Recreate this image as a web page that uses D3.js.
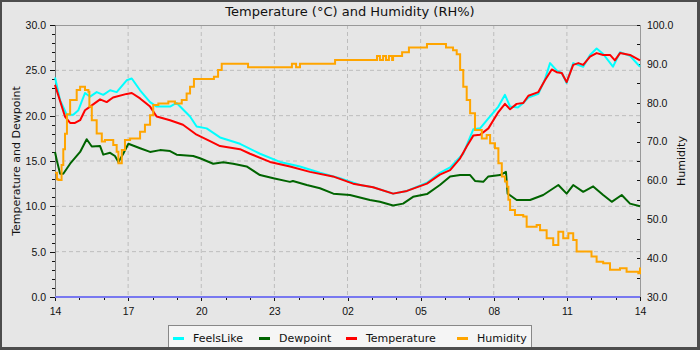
<!DOCTYPE html>
<html>
<head>
<meta charset="utf-8">
<script src="https://cdn.jsdelivr.net/npm/d3@7"></script>
<style>
  body { margin: 0; background: #4d4d4d; }
  svg { display: block; font-family: "DejaVu Sans", sans-serif; }
  .tick text { fill: #111; }
</style>
</head>
<body>
<div id="chart"></div>
<script>
// hours since 14:00
var tickLabels = ["14", "17", "20", "23", "02", "05", "08", "11", "14"];
var seriesNames = ["FeelsLike", "Dewpoint", "Temperature", "Humidity"];

var feelsLike = [
  [0, 24.2], [0.21, 21.7], [0.48, 20.1], [0.75, 20.1], [0.96, 20.6], [1.23, 22.5], [1.44, 22.1],
  [1.71, 22.6], [1.98, 22.3], [2.26, 22.8], [2.53, 22.6], [2.94, 23.9], [3.15, 24.1], [3.49, 22.8],
  [3.90, 21.5], [4.17, 21.0], [4.72, 21.0], [4.99, 21.4], [5.54, 19.9], [5.81, 18.8], [6.22, 18.6],
  [6.77, 17.6], [7.59, 16.9], [8.41, 15.8], [9.23, 14.9], [10.05, 14.4], [10.87, 13.7], [11.69, 13.1],
  [12.51, 12.35], [13.05, 12.1], [13.87, 11.4], [14.44, 11.7], [15.26, 12.6], [15.79, 13.7],
  [16.21, 14.3], [16.75, 15.8], [17.16, 18.5], [17.44, 18.6], [17.78, 19.7], [18.19, 21.0],
  [18.46, 22.3], [18.67, 21.0], [18.99, 20.9], [19.21, 21.4], [19.42, 22.0], [19.83, 22.4],
  [20.10, 24.0], [20.31, 25.8], [20.58, 25.0], [20.79, 24.7], [20.99, 23.6], [21.26, 25.8],
  [21.67, 25.4], [21.95, 26.7], [22.22, 27.4], [22.49, 26.8], [22.89, 25.4], [23.18, 27.0],
  [23.59, 26.6], [24, 25.4]
];

var dewpoint = [
  [0, 16.0], [0.08, 15.0], [0.21, 13.6], [0.34, 13.6], [0.62, 14.7], [1.03, 16.0], [1.30, 17.4],
  [1.51, 16.6], [1.85, 16.65], [1.98, 15.7], [2.26, 15.9], [2.46, 15.55], [2.60, 14.9], [2.80, 15.8],
  [3.01, 16.9], [3.49, 16.4], [3.90, 16.0], [4.31, 16.2], [4.72, 16.1], [4.99, 15.7], [5.67, 15.55],
  [5.95, 15.3], [6.49, 14.7], [6.90, 14.85], [7.31, 14.7], [7.86, 14.4], [8.41, 13.45], [8.96, 13.1],
  [9.64, 12.7], [9.76, 12.8], [10.33, 12.35], [10.87, 12.0], [11.42, 11.4], [12.10, 11.25],
  [12.92, 10.7], [13.33, 10.5], [13.87, 10.1], [14.28, 10.3], [14.69, 11.05], [15.26, 11.35],
  [15.79, 12.35], [16.21, 13.3], [16.62, 13.45], [17.03, 13.45], [17.23, 12.8], [17.57, 12.7],
  [17.78, 13.3], [18.26, 13.45], [18.50, 13.8], [18.57, 11.4], [18.94, 10.7], [19.49, 10.7],
  [20.03, 11.25], [20.65, 12.35], [20.99, 11.4], [21.26, 12.35], [21.67, 11.6], [22.08, 12.2],
  [22.49, 11.25], [22.84, 10.5], [23.25, 11.25], [23.59, 10.3], [24, 10.0]
];

var temperature = [
  [0, 23.4], [0.41, 19.9], [0.62, 19.2], [0.82, 19.2], [1.03, 19.5], [1.23, 20.6], [1.44, 21.0],
  [1.85, 21.8], [2.12, 21.5], [2.38, 22.0], [2.94, 22.4], [3.15, 22.5], [3.49, 21.9], [3.90, 21.0],
  [4.17, 19.9], [4.72, 19.5], [5.25, 19.0], [5.81, 17.9], [6.36, 17.2], [6.77, 16.65], [7.59, 16.3],
  [8.0, 15.8], [8.82, 14.9], [9.64, 14.4], [10.46, 13.8], [11.4, 13.3], [12.23, 12.5], [13.05, 12.1],
  [13.87, 11.4], [14.44, 11.7], [15.26, 12.5], [15.79, 13.5], [16.21, 14.0], [16.62, 15.3],
  [16.89, 16.6], [17.16, 17.8], [17.44, 17.9], [17.78, 18.6], [18.19, 20.4], [18.46, 21.3],
  [18.67, 20.7], [18.94, 21.3], [19.21, 21.4], [19.42, 22.2], [19.83, 22.6], [20.10, 23.9],
  [20.38, 25.1], [20.58, 24.8], [20.79, 24.7], [20.99, 23.7], [21.26, 25.6], [21.47, 25.8],
  [21.67, 25.6], [21.95, 26.5], [22.22, 26.9], [22.49, 26.7], [22.77, 26.7], [22.97, 26.1],
  [23.18, 26.9], [23.59, 26.7], [24, 26.1]
];

var humidity = [
  [0, 62.0], [0.08, 60.3], [0.14, 60.1], [0.27, 64.0], [0.34, 68.0], [0.41, 72.0], [0.49, 77.0],
  [0.62, 80.7], [0.89, 83.3], [1.03, 84.1], [1.23, 83.3], [1.37, 82.8], [1.41, 79.0], [1.51, 75.5],
  [1.71, 72.1], [1.92, 70.0], [2.05, 70.4], [2.26, 70.4], [2.39, 69.1], [2.53, 67.4], [2.60, 64.4],
  [2.74, 67.8], [2.87, 70.4], [3.08, 70.8], [3.35, 70.8], [3.49, 72.5], [3.69, 74.3], [3.90, 76.8],
  [4.03, 79.4], [4.24, 79.8], [4.65, 80.3], [4.92, 79.8], [5.20, 80.7], [5.40, 82.4], [5.54, 84.1],
  [5.70, 86.1], [6.44, 86.1], [6.52, 86.7], [6.69, 88.4], [6.84, 90.0], [7.92, 89.1], [9.72, 90.0],
  [9.89, 89.1], [10.05, 90.0], [11.49, 91.0], [13.21, 92.0], [13.33, 91.0], [13.46, 92.0],
  [13.58, 91.0], [13.70, 92.0], [13.83, 91.0], [13.87, 92.0], [14.24, 93.0], [14.52, 94.2],
  [15.26, 95.1], [16.04, 94.2], [16.33, 93.5], [16.48, 92.5], [16.62, 88.4], [16.75, 84.1],
  [16.89, 80.7], [17.03, 77.3], [17.23, 73.0], [17.51, 70.8], [17.71, 71.7], [17.85, 69.6],
  [18.05, 68.3], [18.19, 64.4], [18.33, 61.0], [18.46, 59.7], [18.55, 58.4], [18.60, 55.0],
  [18.67, 52.4], [18.87, 51.1], [19.21, 50.7], [19.35, 48.1], [19.76, 48.5], [19.90, 47.2],
  [20.17, 45.1], [20.44, 43.4], [20.65, 46.8], [20.85, 45.1], [21.06, 46.4], [21.26, 44.7],
  [21.40, 41.7], [21.81, 41.7], [22.01, 40.4], [22.22, 39.1], [22.49, 38.7], [22.77, 37.0],
  [23.18, 37.4], [23.45, 36.5], [23.93, 36.1], [24, 37.6]
];

var rainRate = [[0, 0], [24, 0]];

var colors = ["#00ffff", "#006400", "#ff0000", "#ffa500"];

var totalWidth = 700, totalHeight = 350,
    margin = {top: 25, right: 60, bottom: 53, left: 55},
    width = totalWidth - margin.left - margin.right,
    height = totalHeight - margin.top - margin.bottom;

var svg = d3.select("#chart").append("svg")
    .attr("width", totalWidth)
    .attr("height", totalHeight);

// fond et bordure
svg.append("rect").attr("width", totalWidth).attr("height", totalHeight).attr("fill", "#4d4d4d");
svg.append("rect").attr("x", 2).attr("y", 2).attr("width", 695).attr("height", 345).attr("fill", "#e6e6e6");

var g = svg.append("g").attr("transform", "translate(" + margin.left + "," + margin.top + ")");

var x = d3.scaleLinear().domain([0, 24]).range([0, width]),
    yL = d3.scaleLinear().domain([0, 30]).range([height, 0]),
    yR = d3.scaleLinear().domain([30, 100]).range([height, 0]);

// grille
var majorX = d3.range(0, 25, 3);
g.selectAll(".vgrid").data(majorX.slice(1, -1)).enter().append("line")
    .attr("x1", function(d) { return x(d); }).attr("x2", function(d) { return x(d); })
    .attr("y1", 0).attr("y2", height)
    .attr("stroke", "#bdbdbd").attr("stroke-dasharray", "4,3");
g.selectAll(".hgrid").data(d3.range(5, 30, 5)).enter().append("line")
    .attr("x1", 0).attr("x2", width)
    .attr("y1", function(d) { return yL(d); }).attr("y2", function(d) { return yL(d); })
    .attr("stroke", "#bdbdbd").attr("stroke-dasharray", "4,3");

// cadre
g.append("rect").attr("width", width).attr("height", height)
    .attr("fill", "none").attr("stroke", "#999").attr("shape-rendering", "crispEdges");

// axes
function styleAxis(sel) {
    sel.selectAll(".domain").remove();
    sel.selectAll("line").attr("stroke", "#111").attr("shape-rendering", "crispEdges");
    sel.selectAll("text").style("font-size", "10.5px");
}
g.append("g").attr("transform", "translate(0," + height + ")")
    .call(d3.axisBottom(x).tickValues(d3.range(0, 25, 1)).tickSize(3).tickFormat(""))
    .call(styleAxis);
g.append("g").attr("transform", "translate(0," + height + ")")
    .call(d3.axisBottom(x).tickValues(majorX).tickSize(4).tickPadding(6.5)
        .tickFormat(function(d, i) { return tickLabels[i]; }))
    .call(styleAxis);

g.append("g")
    .call(d3.axisLeft(yL).tickValues(d3.range(0, 31, 1)).tickSize(3).tickFormat(""))
    .call(styleAxis);
g.append("g")
    .call(d3.axisLeft(yL).tickValues(d3.range(0, 31, 5)).tickSize(5).tickPadding(4)
        .tickFormat(d3.format(".1f")))
    .call(styleAxis);
g.append("line").attr("x1", 0).attr("x2", 0).attr("y1", 0).attr("y2", height)
    .attr("stroke", "#777").attr("shape-rendering", "crispEdges");

g.append("g").attr("transform", "translate(" + width + ",0)")
    .call(d3.axisRight(yR).tickValues(d3.range(30, 101, 5)).tickSize(-3).tickPadding(7)
        .tickFormat(function(d) { return d % 10 === 0 ? d3.format(".1f")(d) : ""; }))
    .call(styleAxis);

// titres
svg.append("text").attr("x", 350).attr("y", 16).attr("text-anchor", "middle")
    .style("font-size", "13px").attr("fill", "#111")
    .text("Temperature (°C) and Humidity (RH%)");
svg.append("text").attr("transform", "translate(20," + (margin.top + height / 2) + ") rotate(-90)")
    .attr("text-anchor", "middle").style("font-size", "11px").attr("fill", "#111")
    .text("Temperature and Dewpoint");
svg.append("text").attr("transform", "translate(685," + (margin.top + height / 2) + ") rotate(-90)")
    .attr("text-anchor", "middle").style("font-size", "11px").attr("fill", "#111")
    .text("Humidity");

// courbes
var lineL = d3.line().x(function(d) { return x(d[0]); }).y(function(d) { return yL(d[1]); });
var lineR = d3.line().curve(d3.curveStepAfter)
    .x(function(d) { return x(d[0]); }).y(function(d) { return yR(d[1]); });

g.append("path").datum(rainRate).attr("d", lineL)
    .attr("fill", "none").attr("stroke", "#7878f0").attr("stroke-width", 2);

[feelsLike, dewpoint, temperature].forEach(function(s, i) {
    g.append("path").datum(s).attr("d", lineL)
        .attr("fill", "none").attr("stroke", colors[i]).attr("stroke-width", 2)
        .attr("stroke-linejoin", "round");
});
g.append("path").datum(humidity).attr("d", lineR)
    .attr("fill", "none").attr("stroke", colors[3]).attr("stroke-width", 2);

// légende
var legend = svg.append("g");
legend.append("rect").attr("x", 168.5).attr("y", 325.5).attr("width", 363).attr("height", 30)
    .attr("fill", "#f5f5f5").attr("stroke", "#888");
var legendX = [173, 259, 346, 457];
seriesNames.forEach(function(name, i) {
    legend.append("rect").attr("x", legendX[i]).attr("y", 337).attr("width", 11).attr("height", 3)
        .attr("fill", colors[i]);
    legend.append("text").attr("x", legendX[i] + 20).attr("y", 342)
        .style("font-size", "11px").attr("fill", "#111").text(name);
});
// bordure du bas par-dessus la légende
svg.append("rect").attr("x", 0).attr("y", 347).attr("width", totalWidth).attr("height", 3).attr("fill", "#4d4d4d");
svg.append("rect").attr("x", 697).attr("y", 0).attr("width", 3).attr("height", totalHeight).attr("fill", "#4d4d4d");
</script>
</body>
</html>
